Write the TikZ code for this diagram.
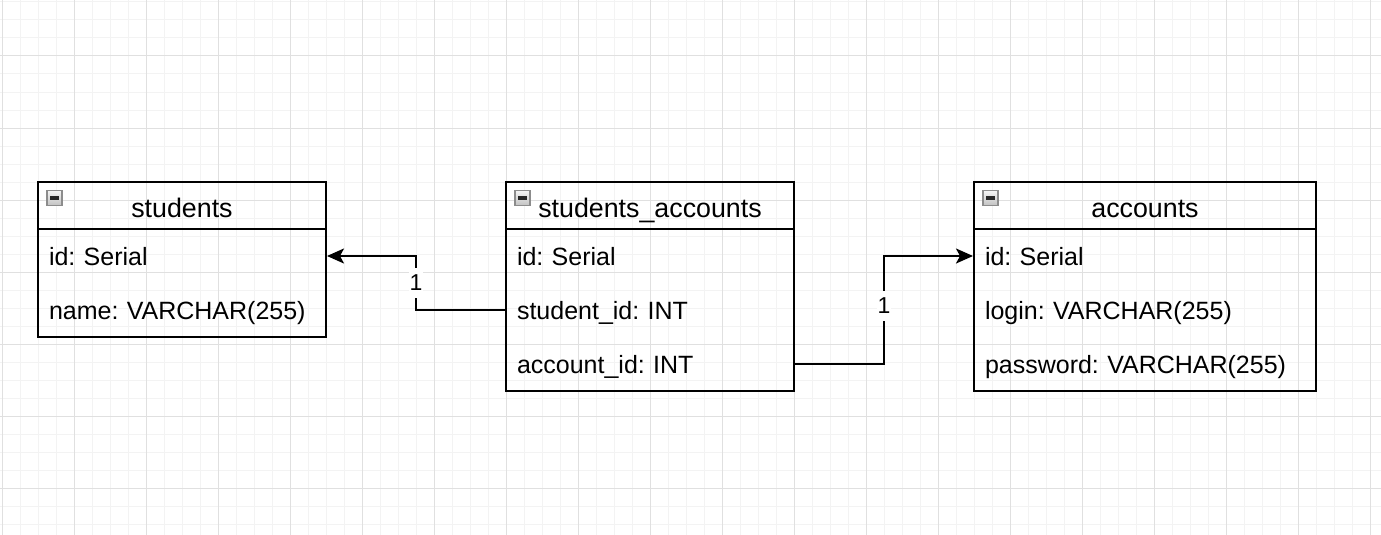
\documentclass[tikz,border=0pt]{standalone}
\usepackage{fontspec}
\setmainfont{Liberation Sans}
\usetikzlibrary{arrows.meta,positioning}
\definecolor{gridlight}{HTML}{F3F3F3}
\definecolor{griddark}{HTML}{E0E0E0}
\definecolor{iconedge}{HTML}{8C8C8C}
\definecolor{icontop}{HTML}{F4F4F4}
\definecolor{iconbot}{HTML}{C2C2C2}
\frenchspacing
\tikzset{
 tblhead/.style={draw,line width=2pt,minimum width=#1,minimum height=47pt,inner sep=0pt,outer sep=0pt,
  anchor=north west,font=\fontsize{26.8}{32}\selectfont,text height=24pt,text depth=0pt},
 tblrow/.style={text width=#1,inner xsep=11pt,inner ysep=0pt,outer sep=0pt,minimum height=54pt,align=left,
  font=\fontsize{25}{30}\selectfont,text height=18pt,text depth=0pt},
 tblframe/.style={draw,line width=2.2pt},
 minbtn/.style={draw=iconedge,line width=1.2pt,top color=icontop,bottom color=iconbot,minimum size=15pt,inner sep=0pt,
  path picture={\fill[black!85] ([xshift=-4.5pt,yshift=-1.6pt]path picture bounding box.center)
   rectangle ([xshift=4.5pt,yshift=1.6pt]path picture bounding box.center);}},
 rel/.style={line width=2.2pt,shorten >=1pt,-{Stealth[length=17pt,width=15pt,inset=4pt]}},
 card/.style={fill=white,inner xsep=1pt,inner ysep=7pt,font=\fontsize{23}{28}\selectfont}
}
\begin{document}
\begin{tikzpicture}[x=1pt,y=-1pt]
\useasboundingbox (0,0) rectangle (1381,535);
\fill[white] (0,0) rectangle (1381,535);
% grid
\foreach \g in {2,20,...,1380} \draw[gridlight,line width=1pt] (\g,0)--(\g,535);
\foreach \g in {2,20,...,534} \draw[gridlight,line width=1pt] (0,\g)--(1381,\g);
\foreach \g in {2,74,...,1380} \draw[griddark,line width=1pt] (\g,0)--(\g,535);
\foreach \g in {56,128,...,534} \draw[griddark,line width=1pt] (0,\g)--(1381,\g);

% students
\node[tblhead=288pt] (stu-h) at (38,182) {students};
\node[tblrow=266pt,below=0pt of stu-h] (stu-1) {id: Serial};
\node[tblrow=266pt,below=0pt of stu-1] (stu-2) {name: VARCHAR(255)};
\draw[tblframe] (stu-h.north west) rectangle (stu-2.south east);
\node[minbtn] (stu-i) at (54.5,198) {};

% students_accounts
\node[tblhead=288pt] (sa-h) at (506,182) {students\_accounts};
\node[tblrow=266pt,below=0pt of sa-h] (sa-1) {id: Serial};
\node[tblrow=266pt,below=0pt of sa-1] (sa-2) {student\_id: INT};
\node[tblrow=266pt,below=0pt of sa-2] (sa-3) {account\_id: INT};
\draw[tblframe] (sa-h.north west) rectangle (sa-3.south east);
\node[minbtn] (sa-i) at (522.5,198) {};

% accounts
\node[tblhead=342pt] (acc-h) at (974,182) {accounts};
\node[tblrow=320pt,below=0pt of acc-h] (acc-1) {id: Serial};
\node[tblrow=320pt,below=0pt of acc-1] (acc-2) {login: VARCHAR(255)};
\node[tblrow=320pt,below=0pt of acc-2] (acc-3) {password: VARCHAR(255)};
\draw[tblframe] (acc-h.north west) rectangle (acc-3.south east);
\node[minbtn] (acc-i) at (990.5,198) {};

% relations
\draw[rel] (sa-2.west) -- ++(-90,0) |- node[card,pos=.25]{1} (stu-1.east);
\draw[rel] (sa-3.east) -- ++(90,0) |- node[card,pos=.27]{1} (acc-1.west);
\end{tikzpicture}
\end{document}
